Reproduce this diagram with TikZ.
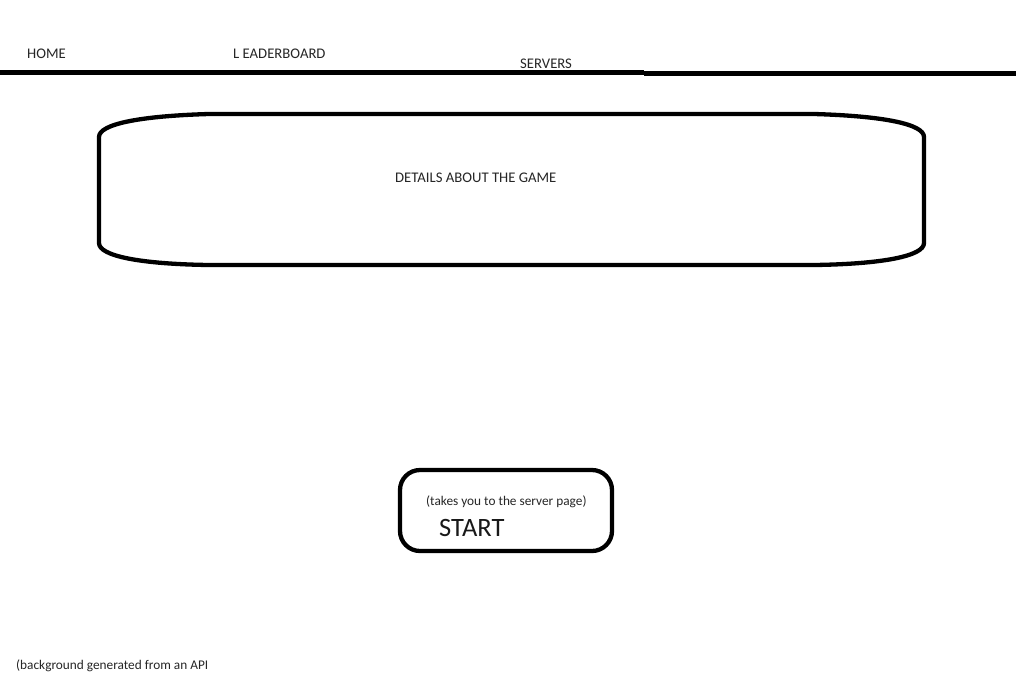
\documentclass[tikz,border=0pt]{standalone}
\usepackage{fontspec}
\setmainfont{Carlito}
\begin{document}
\begin{tikzpicture}[x=1pt,y=-1pt,
  lbl/.style={anchor=base west,inner sep=0pt,text=black!85,font=\fontsize{14.7}{17}\selectfont},
  note/.style={anchor=base west,inner sep=0pt,text=black!85,font=\fontsize{13.3}{16}\selectfont},
  bigtxt/.style={anchor=base west,inner sep=0pt,text=black!90,font=\fontsize{26.5}{30}\selectfont},
  thick line/.style={line width=4.3pt},
  box/.style={line width=4.3pt,line join=round}]
\useasboundingbox[fill=white] (0,0) rectangle (1016,689);
% navigation bar
\node[lbl] (home) at (27,58) {HOME};
\node[lbl] (leader) at (233,58) {L EADERBOARD};
\node[lbl] (servers) at (520,68) {SERVERS};
\coordinate (l1a) at (0,72.5);
\coordinate (l1b) at (644,72.5);
\coordinate (l2a) at (644,73.5);
\coordinate (l2b) at (1016,73.5);
\draw[thick line] (l1a) -- (l1b);
\draw[thick line] (l2a) -- (l2b);
% details box
\draw[box] (99,137) .. controls (99,124) and (140,116) .. (209,114) -- (814,114)
  .. controls (883,116) and (924,124) .. (924,137) -- (924,243)
  .. controls (924,256) and (883,264) .. (814,265) -- (209,265)
  .. controls (140,264) and (99,256) .. (99,243) -- cycle;
\node[lbl] (details) at (395,182) {DETAILS ABOUT THE GAME};
% start button
\draw[box,rounded corners=20pt] (400,470) rectangle (612,551);
\node[note] (takes) at (426,505) {(takes you to the server page)};
\node[bigtxt] (start) at (439,536) {START};
% footnote
\node[note] (bg) at (16,669) {(background generated from an API};
\end{tikzpicture}
\end{document}
